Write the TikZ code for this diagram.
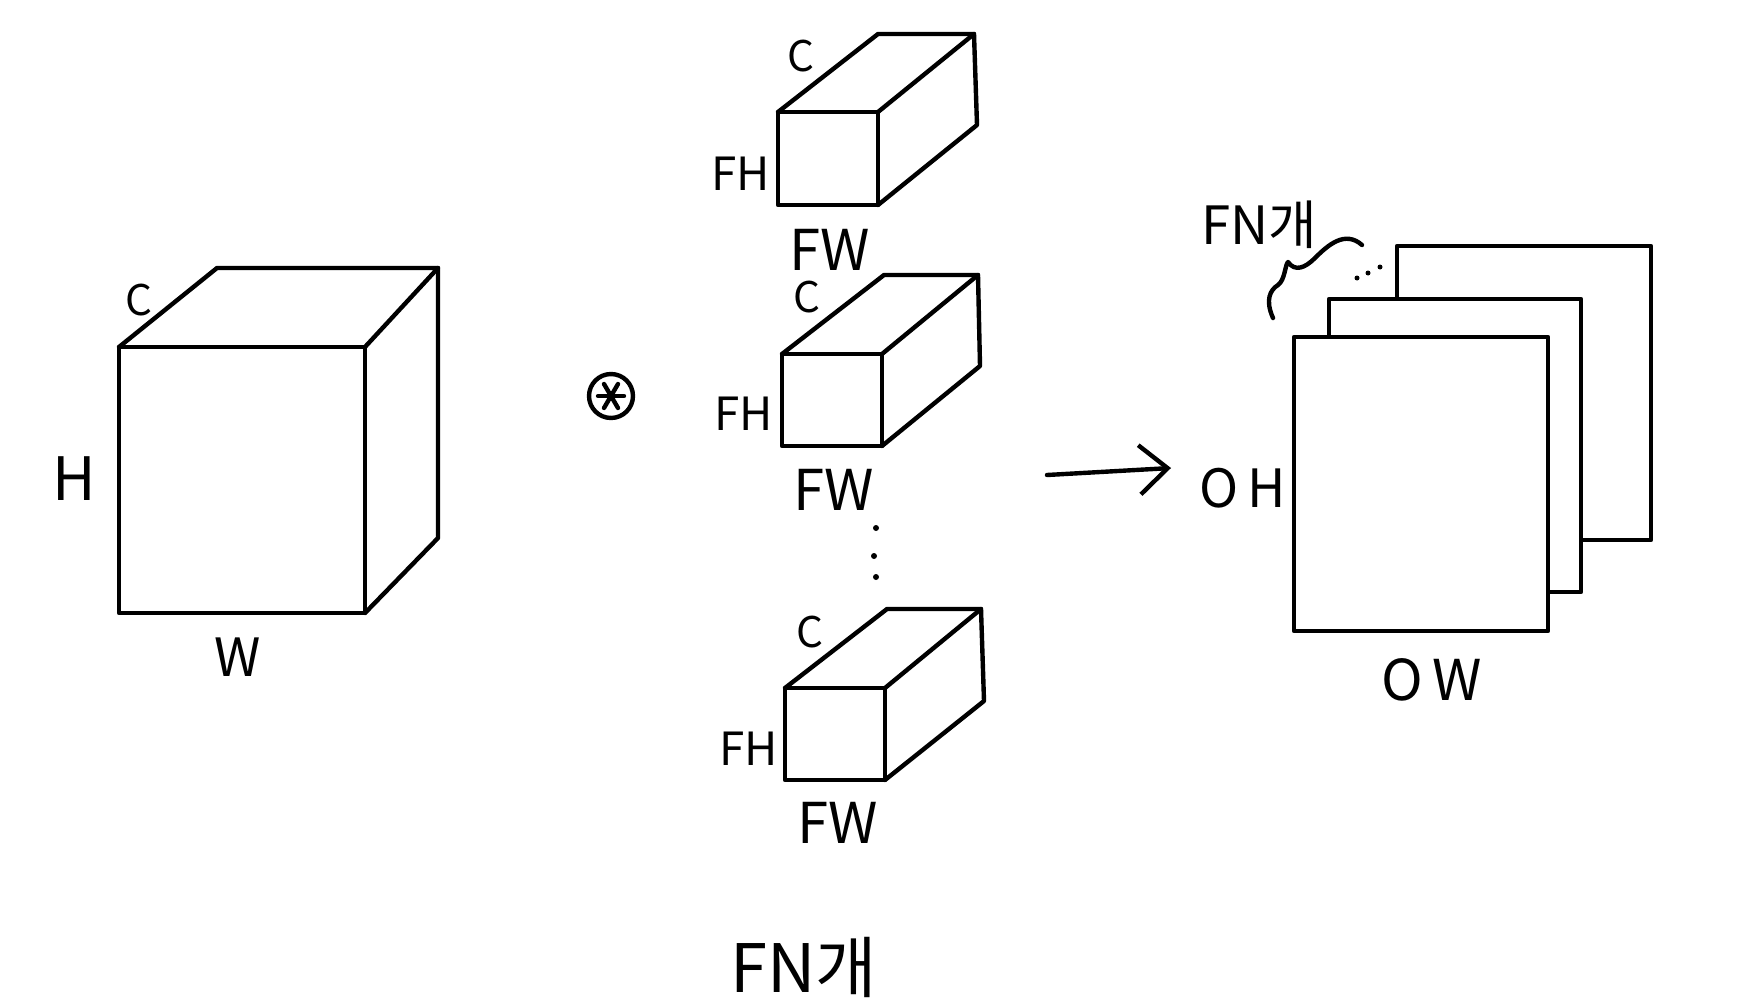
\documentclass[tikz,border=0pt]{standalone}
\usepackage{fontspec}
\setmainfont{Noto Sans CJK KR}
\usetikzlibrary{arrows.meta}
\tikzset{
  edge/.style={line width=1.25pt, line join=round, line cap=round},
  sheet/.style={edge, fill=white},
  lbl/.style={inner sep=0pt, font=\fontsize{#1}{#1}\selectfont},
  lbl/.default=14
}
\begin{document}
\begin{tikzpicture}[x=0.01cm,y=-0.01cm]
\useasboundingbox (0,0) rectangle (1739,1000);

% input volume
\draw[edge] (119,347) rectangle (365,613);
\draw[edge] (119,347) -- (217,268) -- (438,268) -- (438,538) -- (365,613);
\draw[edge] (365,347) -- (438,268);
\node[lbl=12] (inC) at (139,300) {C};
\node[lbl=17] (inH) at (74,479) {H};
\node[lbl=15] (inW) at (238,657) {W};

% convolution symbol
\node[draw, circle, line width=1.25pt, minimum size=12.5pt, inner sep=0pt] (conv) at (611,396) {};
\draw[edge] (conv.center) ++(-13,0) -- ++(26,0);
\draw[edge] (conv.center) ++(-7,-12) -- ++(14,24);
\draw[edge] (conv.center) ++(7,-12) -- ++(-14,24);

% filter 1
\draw[edge] (778,112) rectangle (878,205);
\draw[edge] (778,112) -- (878,34) -- (974,34) -- (977,125) -- (878,205);
\draw[edge] (878,112) -- (974,34);
\node[lbl=12] (c1) at (801,56) {C};
\node[lbl=13] (fh1) at (741,174) {FH};
\node[lbl=16] (fw1) at (830,250) {FW};

% filter 2
\draw[edge] (782,354) rectangle (882,446);
\draw[edge] (782,354) -- (884,275) -- (978,275) -- (980,366) -- (882,446);
\draw[edge] (882,354) -- (978,275);
\node[lbl=12] (c2) at (807,297) {C};
\node[lbl=13] (fh2) at (744,414) {FH};
\node[lbl=16] (fw2) at (834,490) {FW};

% vertical dots
\fill (876,528) circle (3);
\fill (874,556) circle (3);
\fill (876,577) circle (3);

% filter 3
\draw[edge] (785,688) rectangle (885,780);
\draw[edge] (785,688) -- (887,609) -- (981,609) -- (984,701) -- (885,780);
\draw[edge] (885,688) -- (981,609);
\node[lbl=12] (c3) at (810,632) {C};
\node[lbl=13] (fh3) at (749,749) {FH};
\node[lbl=16] (fw3) at (838,823) {FW};

\node[lbl=19] (fnb) at (804,967) {FN개};

% arrow
\coordinate (a1) at (1047,475);
\coordinate (a2) at (1171,468);
\draw[edge, -{Straight Barb[length=8pt,width=14pt]}] (a1) -- (a2);

% output maps
\draw[sheet] (1397,246) rectangle (1651,540);
\draw[sheet] (1329,299) rectangle (1581,592);
\draw[sheet] (1294,337) rectangle (1548,631);
\node[lbl=15] (oh) at (1243,488) {O\,H};
\node[lbl=16] (ow) at (1432,680) {O\,W};
\node[lbl=15] (fnt) at (1259,225) {FN개};

% wavy brace and dots
\draw[edge] (1273,318) .. controls (1265,300) and (1270,290) .. (1278,285)
  .. controls (1285,280) and (1285,265) .. (1288,262)
  .. controls (1295,272) and (1305,268) .. (1315,258)
  .. controls (1328,245) and (1345,230) .. (1362,245);
\fill (1357,278) circle (2.5);
\fill (1368,273) circle (2.5);
\fill (1380,267) circle (2.5);
\end{tikzpicture}
\end{document}
